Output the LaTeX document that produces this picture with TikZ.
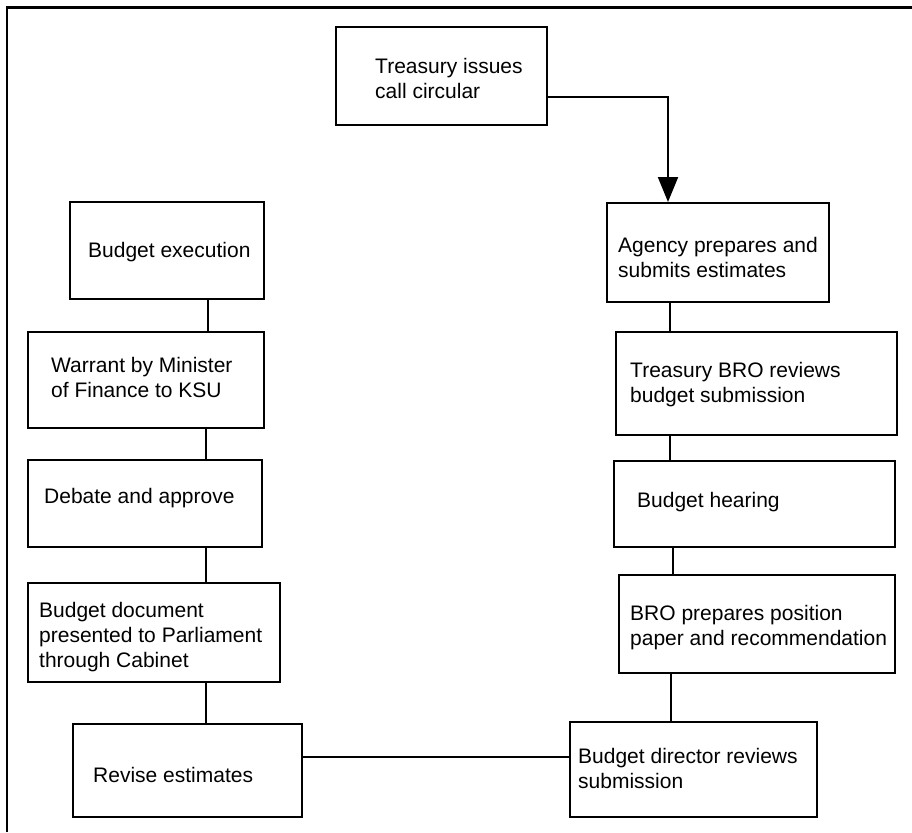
\documentclass[tikz,border=0pt]{standalone}
\usepackage{fontspec}
\setmainfont{Liberation Sans}
\usetikzlibrary{arrows.meta}
\begin{document}
\begin{tikzpicture}[x=1pt,y=1pt,
  box/.style={draw,line width=2pt,rectangle,inner sep=0pt},
  lbl/.style={anchor=base west,inner sep=0pt,align=left,font=\fontsize{21}{25}\selectfont},
  conn/.style={line width=2pt},
  arr/.style={line width=2pt,-{Triangle[length=25pt,width=20pt]}}]
\useasboundingbox (0,0) rectangle (912,-832);
\draw[line width=2.5pt] (7,-832) -- (7,-7.5) -- (912,-7.5);
% boxes
\node[box,minimum width=211pt,minimum height=98pt] (tre) at (441.5,-76) {};
\node[box,minimum width=222pt,minimum height=99pt] (agy) at (718,-252.5) {};
\node[box,minimum width=281pt,minimum height=103pt] (bro1) at (756.5,-383.5) {};
\node[box,minimum width=281pt,minimum height=86pt] (hear) at (754.5,-504) {};
\node[box,minimum width=276pt,minimum height=98pt] (bro2) at (757,-624) {};
\node[box,minimum width=247pt,minimum height=95pt] (dir) at (693.5,-769.5) {};
\node[box,minimum width=229pt,minimum height=93pt] (rev) at (187.5,-770.5) {};
\node[box,minimum width=252pt,minimum height=99pt] (doc) at (154,-632.5) {};
\node[box,minimum width=234pt,minimum height=87pt] (deb) at (145,-503.5) {};
\node[box,minimum width=236pt,minimum height=96pt] (war) at (146,-380) {};
\node[box,minimum width=194pt,minimum height=97pt] (exe) at (167,-250.5) {};
% texts (base anchor = baseline of last line)
\node[lbl] (ttre) at (375,-99) {Treasury issues\\call circular};
\node[lbl] (tagy) at (618,-277) {Agency prepares and\\submits estimates};
\node[lbl] (tbro1) at (630,-402) {Treasury BRO reviews\\budget submission};
\node[lbl] (thear) at (637,-507) {Budget hearing};
\node[lbl] (tbro2) at (630,-645) {BRO prepares position\\paper and recommendation};
\node[lbl] (tdir) at (578,-788) {Budget director reviews\\submission};
\node[lbl] (trev) at (93,-782) {Revise estimates};
\node[lbl] (tdoc) at (39,-667) {Budget document\\presented to Parliament\\through Cabinet};
\node[lbl] (tdeb) at (44,-503) {Debate and approve};
\node[lbl] (twar) at (51,-397) {Warrant by Minister\\of Finance to KSU};
\node[lbl] (texe) at (88,-257) {Budget execution};
% connector coordinates
\coordinate (c1) at (668,-97);
\coordinate (ka) at (670,0);
\coordinate (kb) at (673,0);
\coordinate (kc) at (671,0);
\coordinate (kd) at (208,0);
\coordinate (ke) at (206,0);
\coordinate (kf) at (0,-757);
% connectors
\draw[arr] (tre.east |- c1) -- (c1) -- (c1 |- agy.north);
\draw[conn] (agy.south -| ka) -- (bro1.north -| ka);
\draw[conn] (bro1.south -| ka) -- (hear.north -| ka);
\draw[conn] (hear.south -| kb) -- (bro2.north -| kb);
\draw[conn] (bro2.south -| kc) -- (dir.north -| kc);
\draw[conn] (dir.west |- kf) -- (rev.east |- kf);
\draw[conn] (rev.north -| ke) -- (doc.south -| ke);
\draw[conn] (doc.north -| ke) -- (deb.south -| ke);
\draw[conn] (deb.north -| ke) -- (war.south -| ke);
\draw[conn] (war.north -| kd) -- (exe.south -| kd);
\end{tikzpicture}
\end{document}
